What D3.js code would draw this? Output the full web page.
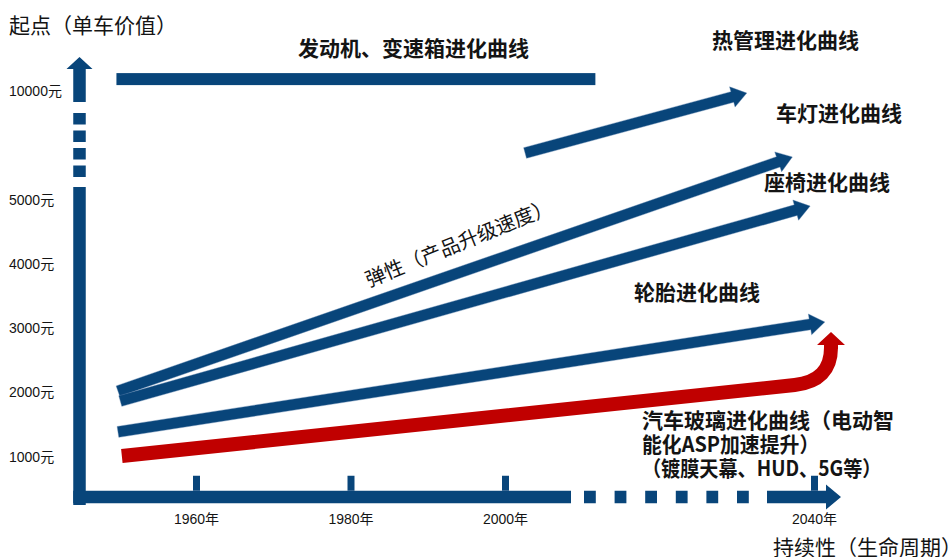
<!DOCTYPE html>
<html>
<head>
<meta charset="utf-8">
<script src="https://cdn.jsdelivr.net/npm/d3@7"></script>
<style>
  html, body { margin: 0; padding: 0; background: #fff; }
  svg { display: block; }
</style>
</head>
<body>
<svg id="chart" width="951" height="557"></svg>
<script>
// ---- data -------------------------------------------------------------
const xTickYears = [1960, 1980, 2000, 2040];
const yTickValues = [1000, 2000, 3000, 4000, 5000, 10000];

// Product evolution curves (blue): start point -> end point in (year, value)
const curveNames      = ["发动机、变速箱进化曲线", "热管理进化曲线", "车灯进化曲线", "座椅进化曲线", "轮胎进化曲线"];
const curveStartYear  = [1949.7, 2002.6, 1949.9, 1950.2, 1949.9];
const curveStartValue = [10500, 7110, 2010, 1855, 1375];
const curveEndYear    = [2011.7, 2031.3, 2037.2, 2039.5, 2041.4];
const curveEndValue   = [10500, 9860, 6930, 4890, 3085];
const curveHasHead    = [false, true, true, true, true];

// Glass curve (red): straight run, bend, then upward head
const glassYears  = [1950.4, 2037.5, 2042.2, 2042.2, 2042.2];
const glassValues = [1000, 2105, 2170, 2700, 2930];
const glassLabel  = ["汽车玻璃进化曲线（电动智", "能化ASP加速提升）", "（镀膜天幕、HUD、5G等）"];

// ---- setup ------------------------------------------------------------
const BLUE = "#08457a";
const RED = "#c00000";
const INK = "#141414";
const CJK = "'Noto Sans CJK SC', 'Noto Sans', sans-serif";
const LAT = "'Liberation Sans', 'Noto Sans CJK SC', sans-serif";

const svg = d3.select("#chart");

// year scale
const x = d3.scaleLinear().domain([1960, 2000]).range([196, 505]);
// value scale with a break above 5000 (compressed upper segment)
const y = d3.scaleLinear().domain([1000, 5000, 10000]).range([456, 199, 90]);

// axis frame geometry
const axisX = 79.5, axisY = 497, axisW = 12.5;

function arrowPath(x0, y0, x1, y1, w, hl, hw) {
  const dx = x1 - x0, dy = y1 - y0, L = Math.hypot(dx, dy);
  const ux = dx / L, uy = dy / L, nx = -uy, ny = ux;
  const bx = x1 - ux * hl, by = y1 - uy * hl;
  const pts = [
    [x0 + nx * w / 2, y0 + ny * w / 2],
    [bx + nx * w / 2, by + ny * w / 2],
    [bx + nx * hw / 2, by + ny * hw / 2],
    [x1, y1],
    [bx - nx * hw / 2, by - ny * hw / 2],
    [bx - nx * w / 2, by - ny * w / 2],
    [x0 - nx * w / 2, y0 - ny * w / 2]
  ];
  return "M" + pts.map(p => p[0].toFixed(2) + "," + p[1].toFixed(2)).join("L") + "Z";
}

// ---- axes frame -------------------------------------------------------
const frame = svg.append("g").attr("fill", BLUE);

// vertical axis: solid part, dashed break, arrow on top
frame.append("rect").attr("x", axisX - axisW / 2).attr("y", 187)
  .attr("width", axisW).attr("height", 505 - 187);
[113, 130.5, 148, 165.5].forEach(t => {
  frame.append("rect").attr("x", axisX - axisW / 2).attr("y", t)
    .attr("width", axisW).attr("height", 11.5);
});
frame.append("path").attr("d", arrowPath(axisX, 102, axisX, 57, axisW, 12, 26));

// horizontal axis: solid part, dashed break, arrow at right
frame.append("rect").attr("x", axisX - axisW / 2).attr("y", axisY - axisW / 2)
  .attr("width", 571 - (axisX - axisW / 2)).attr("height", axisW);
d3.range(6).forEach(i => {
  frame.append("rect").attr("x", 584 + i * 30.6).attr("y", axisY - axisW / 2)
    .attr("width", 11.8).attr("height", axisW);
});
frame.append("path").attr("d", arrowPath(767, axisY, 841, axisY, axisW, 15, 25));

// tick marks standing on the horizontal axis
svg.append("g")
  .attr("transform", `translate(0,${axisY - axisW / 2})`)
  .call(d3.axisBottom(x).tickValues(xTickYears).tickSizeInner(-15).tickSizeOuter(0).tickFormat(""))
  .call(g => g.select(".domain").remove())
  .call(g => g.selectAll("line").attr("stroke", BLUE).attr("stroke-width", 7));

// tick labels
svg.append("g")
  .attr("transform", "translate(0,519)")
  .call(d3.axisBottom(x).tickValues(xTickYears).tickSize(0).tickPadding(0).tickFormat(d => d + "年"))
  .call(g => g.select(".domain").remove())
  .call(g => g.selectAll("text")
    .attr("y", 0).attr("dy", "0.36em")
    .attr("fill", INK).attr("font-family", LAT).attr("font-size", 14));

svg.append("g")
  .attr("transform", "translate(9,0)")
  .call(d3.axisLeft(y).tickValues(yTickValues).tickSize(0).tickPadding(0).tickFormat(d => d + "元"))
  .call(g => g.select(".domain").remove())
  .call(g => g.selectAll("text")
    .attr("x", 0).attr("dy", "0.36em").attr("text-anchor", "start")
    .attr("fill", INK).attr("font-family", LAT).attr("font-size", 14));

// axis titles
svg.append("text").attr("x", 9).attr("y", 25).attr("dy", "0.36em")
  .attr("font-family", CJK).attr("font-size", 21).attr("fill", INK)
  .text("起点（单车价值）");
svg.append("text").attr("x", 773).attr("y", 547).attr("dy", "0.36em")
  .attr("font-family", CJK).attr("font-size", 21).attr("fill", INK)
  .text("持续性（生命周期）");

// ---- curves -----------------------------------------------------------
const curves = curveNames.map((name, i) => ({
  name,
  x0: x(curveStartYear[i]), y0: y(curveStartValue[i]),
  x1: x(curveEndYear[i]), y1: y(curveEndValue[i]),
  head: curveHasHead[i]
}));

const cg = svg.append("g");
curves.forEach(c => {
  if (c.head) {
    cg.append("path").attr("d", arrowPath(c.x0, c.y0, c.x1, c.y1, 11, 15, 21))
      .attr("fill", BLUE).attr("stroke", "#5a82ac").attr("stroke-width", 0.4);
  } else {
    cg.append("rect").attr("x", c.x0).attr("y", c.y0 - 6)
      .attr("width", c.x1 - c.x0).attr("height", 12).attr("fill", BLUE);
  }
});

// red glass curve
const gp = glassYears.map((yr, i) => [x(yr), y(glassValues[i])]);
const redPath = d3.path();
redPath.moveTo(gp[0][0], gp[0][1]);
redPath.lineTo(gp[1][0], gp[1][1]);
redPath.quadraticCurveTo(gp[2][0], gp[2][1], gp[3][0], gp[3][1] + 1);
svg.append("path").attr("d", redPath.toString())
  .attr("fill", "none").attr("stroke", RED).attr("stroke-width", 14);
svg.append("path").attr("d", arrowPath(gp[3][0], gp[3][1] + 2, gp[4][0], gp[4][1], 14, 13, 28))
  .attr("fill", RED);

// ---- annotations ------------------------------------------------------
const FS = 21;
const labels = svg.append("g")
  .attr("font-family", CJK).attr("font-size", FS).attr("font-weight", 700).attr("fill", INK);

// lines holding Latin runs are tightened to the width of a condensed face
function lab(tx, ty, s) {
  const t = labels.append("text").attr("x", tx).attr("y", ty).attr("dy", "0.36em").text(s);
  const latin = (s.match(/[A-Za-z0-9]/g) || []).length;
  if (latin) {
    const cjk = s.length - latin;
    t.attr("textLength", cjk * FS + latin * FS * 0.48).attr("lengthAdjust", "spacingAndGlyphs");
  }
  return t;
}
lab(298, 48, curveNames[0]);
lab(712, 40, curveNames[1]);
lab(776, 113, curveNames[2]);
lab(764, 182, curveNames[3]);
lab(634, 292, curveNames[4]);
lab(642, 420, glassLabel[0]);
lab(642, 444, glassLabel[1]);
lab(642, 468, glassLabel[2]);

svg.append("text")
  .attr("transform", "translate(459,243) rotate(-22)")
  .attr("text-anchor", "middle").attr("dy", "0.36em")
  .attr("font-family", CJK).attr("font-size", 20).attr("fill", INK)
  .text("弹性（产品升级速度）");
</script>
</body>
</html>
